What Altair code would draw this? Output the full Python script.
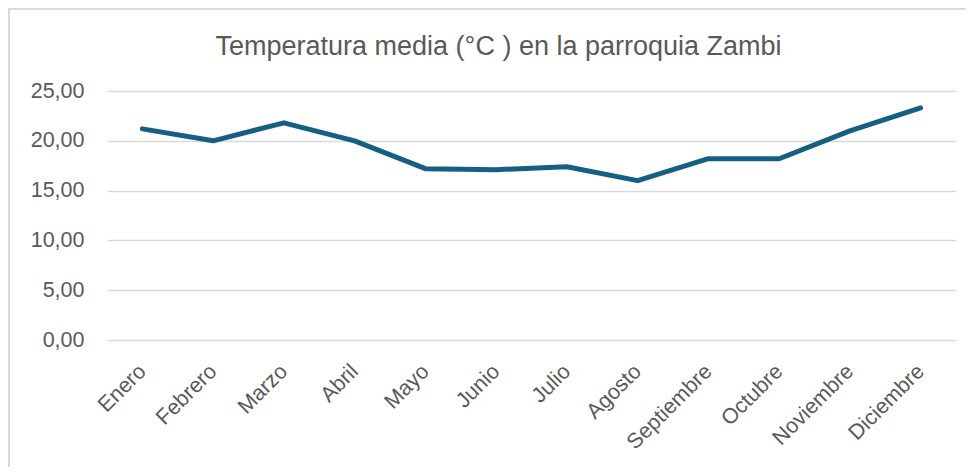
import altair as alt
import pandas as pd

months = ["Enero", "Febrero", "Marzo", "Abril", "Mayo", "Junio", "Julio",
          "Agosto", "Septiembre", "Octubre", "Noviembre", "Diciembre"]
temps = [21.2, 20.0, 21.8, 20.0, 17.2, 17.1, 17.4, 16.0, 18.2, 18.2, 21.0, 23.3]
y_ticks = [0, 5, 10, 15, 20, 25]

df = pd.DataFrame({"mes": months, "temp": temps})

W, H = 849, 249
FONT = "Liberation Sans"
GRAY = "#595959"

line = alt.Chart(df).mark_line(
    color="#156082", strokeWidth=5, strokeCap="round", strokeJoin="round"
).encode(
    x=alt.X("mes:N", sort=months,
            scale=alt.Scale(type="point", padding=0.5),
            axis=alt.Axis(title=None, labelAngle=-45, labelAlign="right",
                          labelBaseline="middle", labelPadding=28, ticks=False,
                          domain=False, grid=False, labelFontSize=21.5,
                          labelColor=GRAY, labelFont=FONT)),
    y=alt.Y("temp:Q", scale=alt.Scale(domain=[0, 25], nice=False),
            axis=alt.Axis(title=None, values=y_ticks, ticks=False, domain=False,
                          labelExpr="replace(format(datum.value, '.2f'), '.', ',')",
                          labelPadding=23, labelFontSize=21.5, labelColor=GRAY,
                          labelFont=FONT, gridColor="#d9d9d9", gridWidth=1.5)),
)

border_top = alt.Chart(df).mark_rule(color="#d9d9d9", strokeWidth=1.5, clip=False).encode(
    x=alt.value(-98), x2=alt.value(W + 20), y=alt.value(-82.5)
)
border_left = alt.Chart(df).mark_rule(color="#d9d9d9", strokeWidth=1.5, clip=False).encode(
    x=alt.value(-98), y=alt.value(-82.5), y2=alt.value(H + 140)
)

chart = alt.layer(line, border_top, border_left).properties(
    width=W, height=H,
    title=alt.TitleParams("Temperatura media (°C ) en la parroquia Zambi",
                          fontSize=27, font=FONT, fontWeight="normal", color=GRAY,
                          anchor="middle", dx=-33, baseline="alphabetic", offset=-74),
    autosize=alt.AutoSizeParams(type="none"),
    padding={"left": 99, "top": 83, "right": 10, "bottom": 127},
).configure_view(stroke=None)

chart.save("out.html", embed_options={"renderer": "svg", "actions": False})
